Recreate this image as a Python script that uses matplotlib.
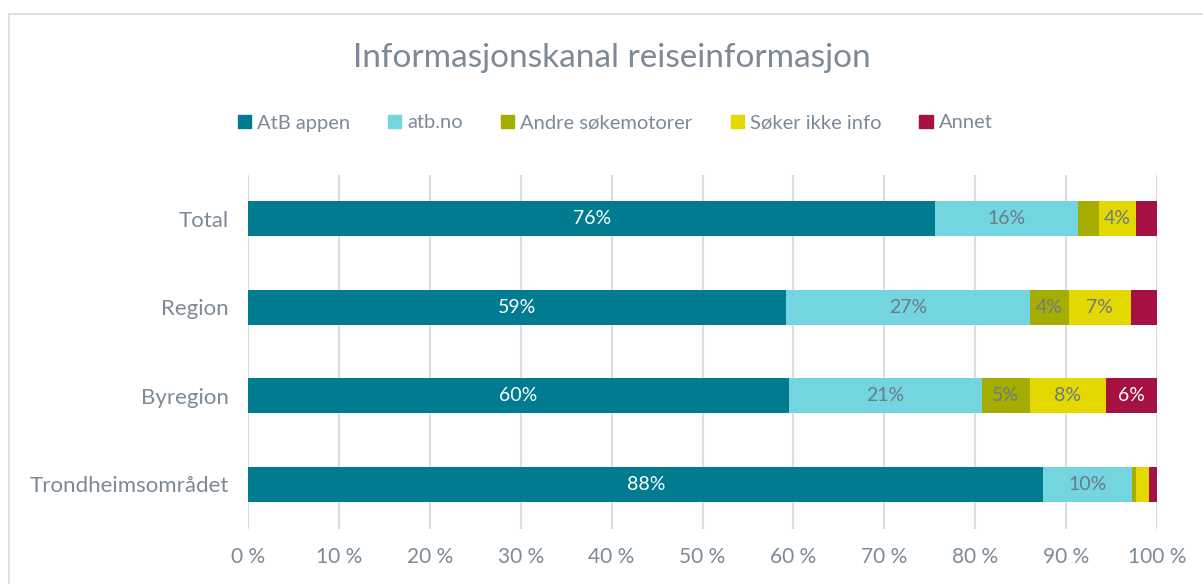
import matplotlib
matplotlib.use("Agg")
import matplotlib.pyplot as plt
from matplotlib.patches import Rectangle

categories = ["Total", "Region", "Byregion", "Trondheimsområdet"]
series = ["AtB appen", "atb.no", "Andre søkemotorer", "Søker ikke info", "Annet"]
values = {
    "AtB appen": [75.6, 59.2, 59.5, 87.5],
    "atb.no": [15.7, 26.8, 21.2, 9.7],
    "Andre søkemotorer": [2.3, 4.3, 5.3, 0.5],
    "Søker ikke info": [4.1, 6.8, 8.4, 1.4],
    "Annet": [2.3, 2.9, 5.6, 1.0],
}
colors = ["#007b8f", "#72d5e0", "#a5ad00", "#e3d800", "#a51140"]
label_colors = ["white", "#6b7b87", "#6b7b87", "#6b7b87", "white"]
xticks = [0, 10, 20, 30, 40, 50, 60, 70, 80, 90, 100]

plt.rcParams['font.family'] = ['Lato', 'DejaVu Sans']
text_color = "#7b8a96"

fig = plt.figure(figsize=(12.03, 5.84), dpi=100)
fig.patches.append(Rectangle((9 / 1203, -0.1), 1.2, 1 - 14 / 584 + 0.1,
                             transform=fig.transFigure, fill=False,
                             edgecolor="#d9d9d9", linewidth=1.2))
ax = fig.add_axes([248 / 1203, 1 - 528.5 / 584, 909 / 1203, 354 / 584])

ypos = list(range(len(categories)))
left = [0] * len(categories)
for s, c, lc in zip(series, colors, label_colors):
    vals = values[s]
    ax.barh(ypos, vals, left=left, height=0.4, color=c, zorder=3)
    for y, l, v in zip(ypos, left, vals):
        if v >= 3.5:
            ax.text(l + v / 2, y, f"{round(v)}%", ha="center", va="center",
                    color=lc, fontsize=14, zorder=4)
    left = [a + b for a, b in zip(left, vals)]

ax.set_xlim(0, 100)
ax.set_ylim(len(categories) - 0.5, -0.5)
ax.set_yticks(ypos)
ax.set_yticklabels(categories, fontsize=16, color=text_color)
ax.set_xticks(xticks)
ax.set_xticklabels([f"{t} %" for t in xticks], fontsize=15, color=text_color)
ax.tick_params(length=0)
ax.tick_params(axis="y", pad=14)
ax.tick_params(axis="x", pad=13)
ax.grid(axis="x", color="#dcdcdc", linewidth=1.5, zorder=0)
for sp in ax.spines.values():
    sp.set_visible(False)

fig.text(612 / 1203, 1 - 58 / 584, "Informasjonskanal reiseinformasjon",
         ha="center", va="center", fontsize=24, color=text_color)

handles = [Rectangle((0, 0), 1, 1, color=c) for c in colors]
fig.legend(handles, series, loc="center", bbox_to_anchor=(615 / 1203, 1 - 123 / 584),
           ncol=5, frameon=False, fontsize=14.5, labelcolor=text_color,
           handlelength=0.65, handleheight=0.65, handletextpad=0.3, columnspacing=1.9)

fig.savefig("out.png", dpi=100)
